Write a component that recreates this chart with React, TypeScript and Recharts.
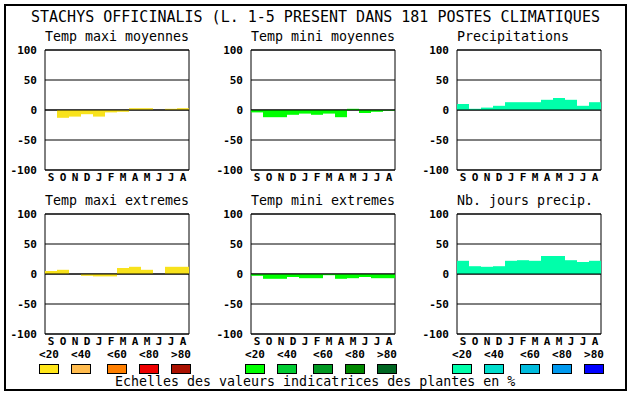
import React from 'react';
import {
  Bar,
  BarChart,
  CartesianGrid,
  ReferenceArea,
  ReferenceLine,
  XAxis,
  YAxis,
} from 'recharts';

const months = ['S', 'O', 'N', 'D', 'J', 'F', 'M', 'A', 'M', 'J', 'J', 'A'];
const tempMaxiMoy = [0, -13, -11, -7, -11, -4, -3, 3, 3, 0, 2, 3];
const tempMiniMoy = [-4, -12, -12, -8, -6, -8, -6, -12, 2, -5, -3, -1];
const precipitations = [10, 2, 4, 7, 13, 13, 13, 17, 20, 17, 7, 13];
const tempMaxiExt = [5, 7, 0, -3, -4, -4, 10, 12, 7, 0, 12, 12];
const tempMiniExt = [-3, -8, -8, -5, -7, -7, -2, -8, -7, -5, -7, -7];
const joursPrecip = [22, 13, 12, 13, 22, 23, 22, 30, 30, 23, 20, 22];
const yTicks = [-100, -50, 0, 50, 100];

const legendLabels = ['<20', '<40', '<60', '<80', '>80'];
const yellowScale = ['#ffe619', '#ffbb4d', '#ff7f00', '#ee0000', '#aa1100'];
const greenScale = ['#00ff00', '#00cc33', '#009922', '#008800', '#006622'];
const blueScale = ['#00ffaa', '#00ddcc', '#00bbdd', '#0099ee', '#0000ff'];

const MONO = '"DejaVu Sans Mono", monospace';
const YELLOW = '#f8e21c';
const GREEN = '#00ff00';
const MINT = '#00ffaa';

function Panel({
  title,
  values,
  color,
  left,
  top,
}: {
  title: string;
  values: number[];
  color: string;
  left: number;
  top: number;
}) {
  const data = values.map((v, i) => ({ k: String(i), v }));
  return (
    <>
      <div
        style={{
          position: 'absolute',
          left,
          top: top - 20,
          fontFamily: MONO,
          fontSize: '13.3px',
          lineHeight: '13px',
          whiteSpace: 'pre',
        }}
      >
        {title}
      </div>
      <div style={{ position: 'absolute', left: left - 40, top: top - 8 }}>
        <BarChart
          width={190}
          height={148}
          data={data}
          margin={{ top: 8, right: 6, bottom: 0, left: 0 }}
          barCategoryGap={0}
          barGap={0}
        >
          <CartesianGrid stroke="#000" vertical={false} strokeDasharray="0" />
          <XAxis
            dataKey="k"
            height={20}
            axisLine={false}
            tickLine={false}
            tickSize={0}
            tickMargin={3}
            interval={0}
            tickFormatter={(_v: string, i: number) => months[i]}
            tick={{ fill: '#000', fontSize: 11, fontWeight: 'bold', fontFamily: MONO }}
          />
          <YAxis
            width={40}
            domain={[-100, 100]}
            ticks={yTicks}
            axisLine={false}
            tickLine={false}
            interval={0}
            tick={{ fill: '#000', fontSize: 11, fontWeight: 'bold', fontFamily: MONO }}
          />
          <Bar dataKey="v" fill={color} isAnimationActive={false} />
          <ReferenceLine y={0} stroke="#000" />
          <ReferenceArea y1={-100} y2={100} fill="none" stroke="#000" ifOverflow="visible" />
        </BarChart>
      </div>
    </>
  );
}

function LegendGroup({ colors, left }: { colors: string[]; left: number }) {
  const offsets = [0, 32, 68, 100, 132];
  return (
    <>
      {colors.map((c, i) => (
        <React.Fragment key={i}>
          <div
            style={{
              position: 'absolute',
              left: left + offsets[i] - 5,
              width: 30,
              top: 349,
              textAlign: 'center',
              fontFamily: MONO,
              fontSize: 11,
              fontWeight: 'bold',
              lineHeight: '11px',
            }}
          >
            {legendLabels[i]}
          </div>
          <div
            style={{
              position: 'absolute',
              left: left + offsets[i],
              top: 364,
              width: 20,
              height: 10,
              boxSizing: 'border-box',
              border: '1px solid #000',
              background: c,
            }}
          />
        </React.Fragment>
      ))}
    </>
  );
}

export default function App() {
  return (
    <div
      style={{
        position: 'fixed',
        left: 0,
        top: 0,
        width: 630,
        height: 394,
        background: '#fff',
        color: '#000',
      }}
    >
      <div
        style={{
          position: 'absolute',
          left: 4,
          top: 4,
          width: 619,
          height: 383,
          border: '2px solid #000',
        }}
      />
      <div
        style={{
          position: 'absolute',
          left: 31,
          top: 10,
          fontFamily: MONO,
          fontSize: '15px',
          lineHeight: '15px',
          whiteSpace: 'pre',
        }}
      >
        STACHYS OFFICINALIS (L. 1-5 PRESENT DANS 181 POSTES CLIMATIQUES
      </div>

      <Panel title="Temp maxi moyennes" values={tempMaxiMoy} color={YELLOW} left={45} top={50} />
      <Panel title="Temp mini moyennes" values={tempMiniMoy} color={GREEN} left={251} top={50} />
      <Panel title="Precipitations" values={precipitations} color={MINT} left={457} top={50} />
      <Panel title="Temp maxi extremes" values={tempMaxiExt} color={YELLOW} left={45} top={214} />
      <Panel title="Temp mini extremes" values={tempMiniExt} color={GREEN} left={251} top={214} />
      <Panel title="Nb. jours precip." values={joursPrecip} color={MINT} left={457} top={214} />

      <LegendGroup colors={yellowScale} left={39} />
      <LegendGroup colors={greenScale} left={245} />
      <LegendGroup colors={blueScale} left={452} />

      <div
        style={{
          position: 'absolute',
          left: 115,
          top: 375,
          fontFamily: MONO,
          fontSize: '13.3px',
          lineHeight: '13px',
          whiteSpace: 'pre',
        }}
      >
        Echelles des valeurs indicatrices des plantes en %
      </div>
    </div>
  );
}
